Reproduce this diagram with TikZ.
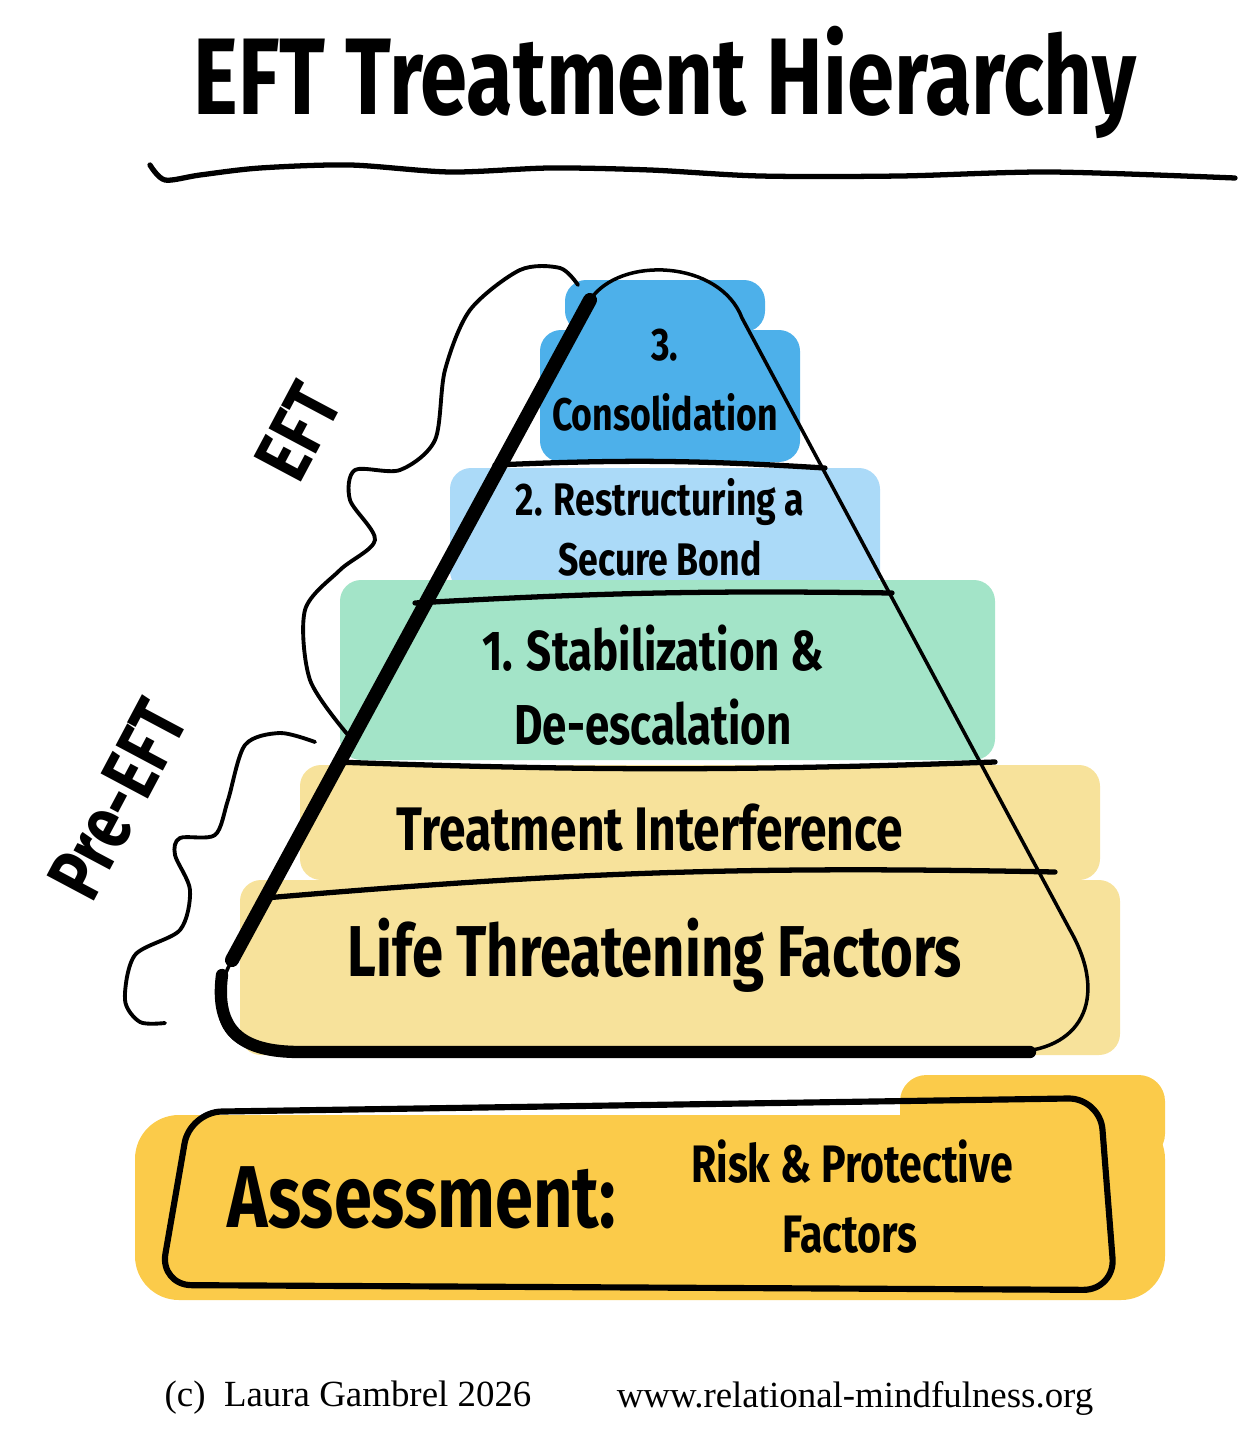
\documentclass[tikz,border=0pt]{standalone}
\usepackage{fontspec}
\setmainfont{Liberation Serif}
\newfontfamily\handfont[FakeStretch=0.78]{Fira Sans}
\usetikzlibrary{positioning}
\definecolor{topblue}{HTML}{4DB0EA}
\definecolor{lightblue}{HTML}{ABDAF8}
\definecolor{mint}{HTML}{A3E4C8}
\definecolor{sand}{HTML}{F7E29B}
\definecolor{gold}{HTML}{FBCB4A}
\tikzset{
  hand/.style={font=\handfont\bfseries, text=black, align=center},
  band/.style={rounded corners=12pt},
  divider/.style={line width=3pt, line cap=round},
  brace/.style={line width=2.2pt, line cap=round, line join=round},
}
\begin{document}
\begin{tikzpicture}[x=0.02cm,y=-0.02cm]
  \useasboundingbox (0,0) rectangle (1248,1433);
  % title
  \node[hand, font=\handfont\bfseries\fontsize{62}{70}\selectfont] (title) at (665,82) {EFT Treatment Hierarchy};
  \draw[line width=3pt, line cap=round] plot[smooth] coordinates {(150,165) (165,180) (200,175) (260,168)
    (350,165) (450,172) (550,168) (650,170) (760,176) (900,176) (1050,172) (1235,178)};
  % colour bands
  \fill[topblue, band] (565,280) rectangle (765,332);
  \fill[topblue, band] (540,330) rectangle (800,462);
  \fill[lightblue, band] (450,468) rectangle (880,592);
  \fill[mint, band] (340,580) rectangle (995,760);
  \fill[sand, band] (300,765) rectangle (1100,880);
  \fill[sand, band] (240,880) rectangle (1120,1055);
  % pyramid outline
  \coordinate (apexL) at (590,300);
  \coordinate (apexR) at (742,318);
  \draw[line width=2pt, line join=round] (apexL) .. controls (620,255) and (720,260) .. (apexR)
    -- (1070,930) .. controls (1110,1000) and (1080,1052) .. (1010,1052)
    -- (280,1052) .. controls (220,1052) and (205,1010) .. (232,960) -- cycle;
  \draw[line width=8pt, line cap=round] (apexL) -- (232,960);
  \draw[line width=7pt, line cap=round] (222,975) .. controls (215,1030) and (240,1052) .. (300,1052) -- (1030,1052);
  % dividers
  \draw[divider] (495,465) to[bend left=3] (825,468);
  \draw[divider] (415,603) to[bend left=2] (892,593);
  \draw[divider] (335,762) to[bend right=2] (995,762);
  \draw[divider] (265,898) to[bend left=3] (1055,872);
  % labels
  \node[hand, font=\handfont\bfseries\fontsize{26}{34}\selectfont] (consolidation) at (665,380) {3.\\[6pt]Consolidation};
  \node[hand, font=\handfont\bfseries\fontsize{26}{34}\selectfont] (restructuring) at (660,527) {2. Restructuring a\\Secure Bond};
  \node[hand, font=\handfont\bfseries\fontsize{32}{42}\selectfont] (stabilization) at (653,685) {1. Stabilization \&\\De-escalation};
  \node[hand, font=\handfont\bfseries\fontsize{35}{40}\selectfont] (interference) at (650,828) {Treatment Interference};
  \node[hand, font=\handfont\bfseries\fontsize{41}{48}\selectfont] (lifethreat) at (655,955) {Life Threatening Factors};
  % braces
  \coordinate (eftTop) at (578,285);
  \coordinate (eftEnd) at (348,735);
  \draw[brace] plot[smooth] coordinates {(eftTop) (560,268) (520,270) (470,310) (445,370)
    (435,440) (400,470) (355,470) (350,500) (375,540) (340,570) (305,610) (310,680) (eftEnd)};
  \node[hand, rotate=62, font=\handfont\bfseries\fontsize{44}{50}\selectfont] (eftlabel) at (298,432) {EFT};
  \coordinate (preTop) at (315,742);
  \coordinate (preEnd) at (165,1023);
  \draw[brace] plot[smooth] coordinates {(preTop) (280,733) (245,745) (228,800) (215,835)
    (180,838) (175,855) (190,890) (180,930) (135,955) (125,1000) (140,1022) (preEnd)};
  \node[hand, rotate=62, font=\handfont\bfseries\fontsize{44}{50}\selectfont] (prelabel) at (118,800) {Pre-EFT};
  % assessment
  \fill[gold, rounded corners=25pt] (135,1115) rectangle (1165,1300);
  \fill[gold, rounded corners=15pt] (900,1075) rectangle (1165,1160);
  \draw[line width=3.5pt, rounded corners=18pt] (190,1112) -- (1100,1098) -- (1115,1290) -- (160,1285) -- cycle;
  \node[hand, font=\handfont\bfseries\fontsize{50}{56}\selectfont] (assess) at (422,1198) {Assessment:};
  \node[hand, font=\handfont\bfseries\fontsize{30}{36}\selectfont] (risk) at (852,1162) {Risk \& Protective};
  \node[hand, font=\handfont\bfseries\fontsize{30}{36}\selectfont] (factors) at (850,1235) {Factors};
  % footer
  \node[font=\fontsize{21}{24}\selectfont] (copy) at (348,1398) {(c)\ \ Laura Gambrel 2026};
  \node[font=\fontsize{21}{24}\selectfont] (web) at (855,1398) {www.relational-mindfulness.org};
\end{tikzpicture}
\end{document}
